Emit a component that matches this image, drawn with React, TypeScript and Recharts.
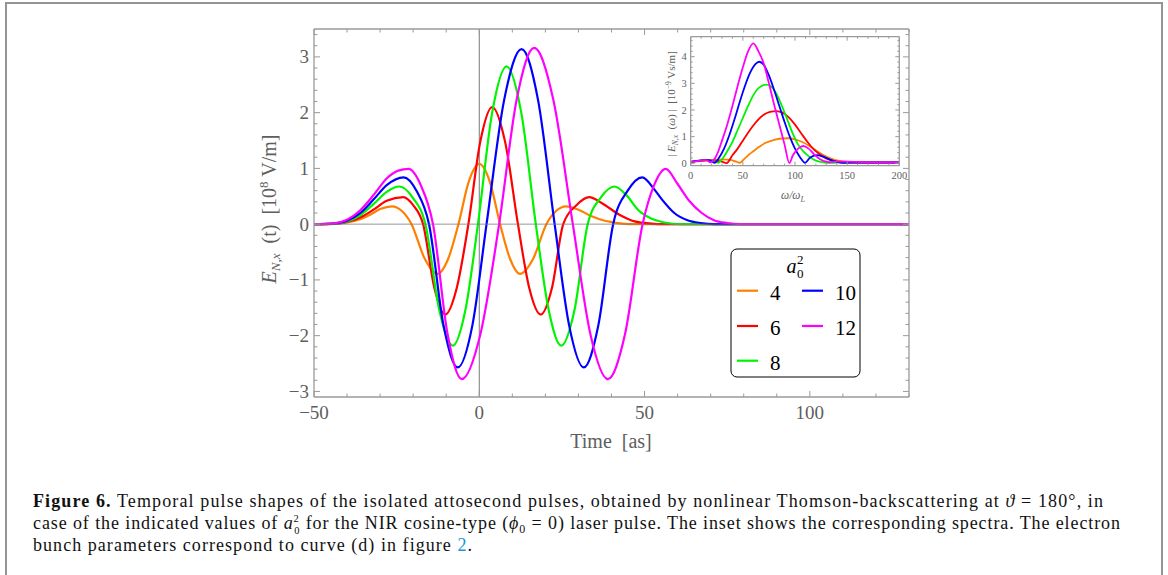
import React from 'react';
import { LineChart, Line, XAxis, YAxis, ReferenceLine } from 'recharts';

// ---------- series meta ----------
const SERIES_LABELS = ['4', '6', '8', '10', '12'];
const COLORS = ['#FF8000', '#FF0000', '#00F400', '#0000FF', '#FF00FF'];

// ---------- main plot: E_N,x(t) [10^8 V/m] vs time [as] ----------
const T_A4 = [-50, -44, -40, -36, -33, -30, -26.4, -23.5, -20.5, -16.5, -12.6, -9.4, -6.3, -3.2, 0, 3.2, 6.3, 9.3, 12.3, 16.3, 20.3, 23.3, 26.3, 30, 34, 38, 42, 46, 130];
const E_A4 = [0, 0.005, 0.03, 0.09, 0.17, 0.27, 0.32, 0.24, 0, -0.62, -0.89, -0.62, 0, 0.76, 1.08, 0.76, 0, -0.62, -0.89, -0.62, 0, 0.24, 0.32, 0.26, 0.14, 0.06, 0.02, 0, 0];

const T_A6 = [-50, -44, -40, -36, -32, -28, -23, -20, -17, -13.6, -10.3, -6.8, -3.3, 0.3, 3.9, 7.8, 11.7, 15.1, 18.6, 22, 25.4, 29.4, 33.3, 37, 42.4, 47, 52, 56, 130];
const E_A6 = [0, 0.005, 0.04, 0.12, 0.26, 0.42, 0.485, 0.34, 0, -1.14, -1.62, -1.14, 0, 1.48, 2.1, 1.48, 0, -1.14, -1.62, -1.14, 0, 0.34, 0.485, 0.38, 0.17, 0.05, 0.01, 0, 0];

const T_A8 = [-50, -44, -40, -36, -32, -28, -24.1, -20.2, -16.3, -12.1, -8, -4.2, -0.4, 3.9, 8.25, 12.7, 17.1, 21, 24.8, 28.8, 32.8, 36.8, 40.9, 44.5, 48.3, 52, 56, 61, 130];
const E_A8 = [0, 0.01, 0.05, 0.16, 0.36, 0.58, 0.675, 0.48, 0, -1.54, -2.18, -1.54, 0, 2.0, 2.83, 2.0, 0, -1.54, -2.18, -1.54, 0, 0.48, 0.675, 0.52, 0.24, 0.1, 0.03, 0, 0];

const T_A10 = [-50, -44, -40, -36, -32, -28, -22.9, -19, -15.2, -10.8, -6.5, -2.1, 2.2, 7.5, 12.8, 17.8, 22.8, 27.2, 31.6, 36, 40.5, 44.9, 49.3, 53, 55.3, 59, 63, 67, 71, 130];
const E_A10 = [0, 0.01, 0.06, 0.2, 0.44, 0.7, 0.84, 0.6, 0, -1.82, -2.57, -1.82, 0, 2.22, 3.14, 2.22, 0, -1.82, -2.57, -1.82, 0, 0.6, 0.84, 0.62, 0.44, 0.2, 0.07, 0.02, 0, 0];

const T_A12 = [-50, -44, -40, -36, -32, -28, -24.5, -21.4, -17.7, -14, -9.6, -5.3, 0.35, 6, 11.3, 16.6, 22.4, 28.3, 33.6, 38.9, 44.1, 49.4, 52.9, 56.4, 60, 63.5, 67.3, 71, 75, 79, 130];
const E_A12 = [0, 0.015, 0.08, 0.25, 0.52, 0.82, 0.96, 0.99, 0.7, 0, -1.97, -2.78, -1.97, 0, 2.23, 3.16, 2.23, 0, -1.97, -2.78, -1.97, 0, 0.7, 0.99, 0.72, 0.42, 0.2, 0.07, 0.02, 0, 0];

// ---------- inset: |E_N,x(omega)| [10^-9 Vs/m] vs omega/omega_L ----------
const W_S4 = [0, 10, 20, 30, 38, 43, 47.3, 51, 55, 60, 65, 72, 80, 87, 93.6, 100, 107, 115, 122, 130, 138, 146, 155, 200];
const S_S4 = [0.05, 0.08, 0.12, 0.15, 0.13, 0.07, 0.02, 0.15, 0.3, 0.45, 0.6, 0.77, 0.88, 0.93, 0.94, 0.9, 0.8, 0.62, 0.43, 0.25, 0.13, 0.07, 0.04, 0.03];

const W_S6 = [0, 10, 18, 25, 30, 34.5, 40, 45, 50, 55, 60, 65, 70, 76, 82.4, 88, 94, 100, 106, 112, 118, 124, 130, 136, 145, 160, 200];
const S_S6 = [0.05, 0.1, 0.12, 0.1, 0.06, 0.01, 0.3, 0.55, 0.85, 1.15, 1.42, 1.65, 1.82, 1.93, 1.96, 1.9, 1.72, 1.45, 1.12, 0.8, 0.52, 0.33, 0.18, 0.09, 0.04, 0.03, 0.03];

const W_S8 = [0, 8, 14, 20, 24, 26.5, 30, 35, 40, 45, 50, 55, 60, 65, 72.8, 78, 83, 88, 93, 98, 103, 108, 113, 120, 127, 132, 150, 200];
const S_S8 = [0.05, 0.1, 0.12, 0.1, 0.05, 0.02, 0.15, 0.45, 0.8, 1.25, 1.7, 2.15, 2.55, 2.82, 2.95, 2.85, 2.55, 2.1, 1.6, 1.1, 0.7, 0.45, 0.27, 0.1, 0.04, 0.02, 0.04, 0.03];

const W_S10 = [0, 8, 15, 20, 23, 27, 32, 37, 42, 47, 52, 57, 62, 65.8, 70, 75, 80, 85, 90, 95, 100, 105, 109.6, 114, 120.8, 127, 133, 140, 146, 160, 200];
const S_S10 = [0.05, 0.1, 0.13, 0.08, 0.02, 0.2, 0.55, 1.05, 1.65, 2.3, 2.9, 3.4, 3.72, 3.81, 3.7, 3.3, 2.75, 2.15, 1.55, 1.0, 0.55, 0.22, 0.02, 0.2, 0.31, 0.25, 0.15, 0.06, 0.02, 0.03, 0.03];

const W_S12 = [0, 10, 15, 19, 22, 26, 30, 35, 40, 45, 50, 55, 60, 65, 70, 75, 80, 85, 90, 94.6, 98, 103, 108, 113, 118, 123, 128, 133, 140, 150, 170, 200];
const S_S12 = [0.05, 0.1, 0.12, 0.04, 0.12, 0.4, 0.85, 1.45, 2.15, 2.9, 3.6, 4.2, 4.5, 4.2, 3.75, 3.0, 2.2, 1.45, 0.7, 0.01, 0.3, 0.55, 0.65, 0.55, 0.35, 0.18, 0.08, 0.04, 0.07, 0.06, 0.04, 0.03];

// ---------- ticks ----------
const MAIN_X_TICKS = [-50, -40, -30, -20, -10, 0, 10, 20, 30, 40, 50, 60, 70, 80, 90, 100, 110, 120, 130];
const MAIN_Y_TICKS = [-3, -2.8, -2.6, -2.4, -2.2, -2, -1.8, -1.6, -1.4, -1.2, -1, -0.8, -0.6, -0.4, -0.2, 0, 0.2, 0.4, 0.6, 0.8, 1, 1.2, 1.4, 1.6, 1.8, 2, 2.2, 2.4, 2.6, 2.8, 3, 3.2, 3.4];
const INSET_X_TICKS = [0, 10, 20, 30, 40, 50, 60, 70, 80, 90, 100, 110, 120, 130, 140, 150, 160, 170, 180, 190, 200];
const INSET_Y_TICKS = [0, 0.2, 0.4, 0.6, 0.8, 1, 1.2, 1.4, 1.6, 1.8, 2, 2.2, 2.4, 2.6, 2.8, 3, 3.2, 3.4, 3.6, 3.8, 4, 4.2, 4.4, 4.6];

const zip = (xs: number[], ys: number[]) => xs.map((t, i) => ({ t, v: ys[i] }));
const MAIN_SERIES = [zip(T_A4, E_A4), zip(T_A6, E_A6), zip(T_A8, E_A8), zip(T_A10, E_A10), zip(T_A12, E_A12)];
const INSET_SERIES = [zip(W_S4, S_S4), zip(W_S6, S_S6), zip(W_S8, S_S8), zip(W_S10, S_S10), zip(W_S12, S_S12)];

const SERIF = '"Liberation Serif", "DejaVu Serif", serif';
const FRAME = '#9a9a9a';
const LABEL = '#5e5e5e';

function fmt(v: number) {
  const r = Math.round(v * 10) / 10;
  return r < 0 ? '\u2212' + Math.abs(r) : String(r);
}

type TickOpts = {
  side: 'bottom' | 'top' | 'left' | 'right';
  step: number;
  major: number;
  minor: number;
  label?: boolean;
  fs?: number;
  off?: number;
  base?: number;
};

function makeTick(o: TickOpts) {
  return (props: any) => {
    const { x, y, payload } = props;
    const v = Number(payload.value);
    const q = v / o.step;
    const isMajor = Math.abs(q - Math.round(q)) < 1e-6;
    const len = isMajor ? o.major : o.minor;
    let x2 = x;
    let y2 = y;
    if (o.side === 'bottom') y2 = y - len;
    if (o.side === 'top') y2 = y + len;
    if (o.side === 'left') x2 = x + len;
    if (o.side === 'right') x2 = x - len;
    const show = !!o.label && isMajor;
    return (
      <g>
        <line x1={x} y1={y} x2={x2} y2={y2} stroke={FRAME} strokeWidth={1} />
        {show && o.side === 'bottom' && (
          <text x={x} y={y + (o.off || 0)} textAnchor="middle" fontFamily={SERIF} fontSize={o.fs} fill={LABEL}>
            {fmt(v)}
          </text>
        )}
        {show && o.side === 'left' && (
          <text x={x - (o.off || 0)} y={y + (o.base || 0)} textAnchor="end" fontFamily={SERIF} fontSize={o.fs} fill={LABEL}>
            {fmt(v)}
          </text>
        )}
      </g>
    );
  };
}

const mainBottom = makeTick({ side: 'bottom', step: 50, major: 6, minor: 3.5, label: true, fs: 19, off: 21.5 });
const mainTop = makeTick({ side: 'top', step: 50, major: 6, minor: 3.5 });
const mainLeft = makeTick({ side: 'left', step: 1, major: 6, minor: 3.5, label: true, fs: 19, off: 5, base: 6.5 });
const mainRight = makeTick({ side: 'right', step: 1, major: 6, minor: 3.5 });

const insBottom = makeTick({ side: 'bottom', step: 50, major: 4, minor: 2, label: true, fs: 10.5, off: 13.5 });
const insTop = makeTick({ side: 'top', step: 50, major: 4, minor: 2 });
const insLeft = makeTick({ side: 'left', step: 1, major: 4, minor: 2, label: true, fs: 10.5, off: 4, base: 3.7 });
const insRight = makeTick({ side: 'right', step: 1, major: 4, minor: 2 });

const axisLine = { stroke: FRAME, strokeWidth: 1.3 };

export default function App() {
  return (
    <div style={{ position: 'absolute', left: 0, top: 0, width: 1168, height: 575, background: '#fff', overflow: 'hidden' }}>
      <svg width={1168} height={575} style={{ position: 'absolute', left: 0, top: 0 }}>
        <rect x={6} y={3} width={1156} height={620} fill="none" stroke="#949494" strokeWidth={2} />
      </svg>

      {/* main chart: plot area x 314..909, y 29..397 */}
      <div style={{ position: 'absolute', left: 0, top: 0 }}>
        <LineChart width={1168} height={575} margin={{ top: 28, right: 258, bottom: 177, left: 313 }}>
          <XAxis xAxisId="b" dataKey="t" type="number" domain={[-50, 130]} allowDataOverflow ticks={MAIN_X_TICKS} interval={0} height={1} tickSize={0} tickMargin={0} tickLine={false} axisLine={axisLine} tick={mainBottom} />
          <XAxis xAxisId="t" orientation="top" dataKey="t" type="number" domain={[-50, 130]} allowDataOverflow ticks={MAIN_X_TICKS} interval={0} height={1} tickSize={0} tickMargin={0} tickLine={false} axisLine={axisLine} tick={mainTop} />
          <YAxis yAxisId="l" type="number" domain={[-3.1, 3.5]} allowDataOverflow ticks={MAIN_Y_TICKS} interval={0} width={1} tickSize={0} tickMargin={0} tickLine={false} axisLine={axisLine} tick={mainLeft} />
          <YAxis yAxisId="r" orientation="right" type="number" domain={[-3.1, 3.5]} allowDataOverflow ticks={MAIN_Y_TICKS} interval={0} width={1} tickSize={0} tickMargin={0} tickLine={false} axisLine={axisLine} tick={mainRight} />
          <ReferenceLine xAxisId="b" yAxisId="l" x={0} stroke="#7a7a7a" strokeWidth={1} />
          {MAIN_SERIES.map((d, i) => (
            <Line key={i} xAxisId="b" yAxisId="l" data={d} dataKey="v" type="monotone" stroke={COLORS[i]} strokeWidth={2.2} dot={false} isAnimationActive={false} />
          ))}
          <ReferenceLine xAxisId="b" yAxisId="l" y={0} stroke="#7a7a7a" strokeOpacity={0.8} strokeWidth={1} />
        </LineChart>
      </div>

      {/* inset chart: plot area x 690.7..899.3, y 36.7..165.7 */}
      <div style={{ position: 'absolute', left: 655, top: 30 }}>
        <LineChart width={260} height={180} margin={{ top: 5.7, right: 14.7, bottom: 43.3, left: 34.7 }}>
          <XAxis xAxisId="b" dataKey="t" type="number" domain={[0, 200]} allowDataOverflow ticks={INSET_X_TICKS} interval={0} height={1} tickSize={0} tickMargin={0} tickLine={false} axisLine={axisLine} tick={insBottom} />
          <XAxis xAxisId="t" orientation="top" dataKey="t" type="number" domain={[0, 200]} allowDataOverflow ticks={INSET_X_TICKS} interval={0} height={1} tickSize={0} tickMargin={0} tickLine={false} axisLine={axisLine} tick={insTop} />
          <YAxis yAxisId="l" type="number" domain={[-0.09, 4.75]} allowDataOverflow ticks={INSET_Y_TICKS} interval={0} width={1} tickSize={0} tickMargin={0} tickLine={false} axisLine={axisLine} tick={insLeft} />
          <YAxis yAxisId="r" orientation="right" type="number" domain={[-0.09, 4.75]} allowDataOverflow ticks={INSET_Y_TICKS} interval={0} width={1} tickSize={0} tickMargin={0} tickLine={false} axisLine={axisLine} tick={insRight} />
          {INSET_SERIES.map((d, i) => (
            <Line key={i} xAxisId="b" yAxisId="l" data={d} dataKey="v" type="monotone" stroke={COLORS[i]} strokeWidth={1.8} dot={false} isAnimationActive={false} />
          ))}
        </LineChart>
      </div>

      {/* labels, legend, caption */}
      <svg width={1168} height={575} style={{ position: 'absolute', left: 0, top: 0, pointerEvents: 'none' }} fontFamily={SERIF}>
        {/* main y title */}
        <text transform="translate(276,209) rotate(-90)" textAnchor="middle" fontSize={20} fill={LABEL} style={{ whiteSpace: 'pre' }}>
          <tspan fontStyle="italic">E</tspan>
          <tspan fontSize={13} dy={4} fontStyle="italic">N,x</tspan>
          <tspan dy={-4}>{'  (t)  [10'}</tspan>
          <tspan fontSize={13} dy={-8}>8</tspan>
          <tspan dy={8}>{' V/m]'}</tspan>
        </text>
        {/* main x title */}
        <text x={611} y={448} textAnchor="middle" fontSize={20} fill={LABEL} style={{ whiteSpace: 'pre' }}>
          {'Time  [as]'}
        </text>

        {/* inset titles */}
        <text transform="translate(675,104) rotate(-90)" textAnchor="middle" fontSize={11} fill={LABEL} style={{ whiteSpace: 'pre' }}>
          <tspan>{'| '}</tspan>
          <tspan fontStyle="italic">E</tspan>
          <tspan fontSize={7.5} dy={2.5} fontStyle="italic">N,x</tspan>
          <tspan dy={-2.5}>{'  ('}</tspan>
          <tspan fontStyle="italic">ω</tspan>
          <tspan>{') |  [10'}</tspan>
          <tspan fontSize={7.5} dy={-4.5}>{'\u22129'}</tspan>
          <tspan dy={4.5}>{' Vs/m]'}</tspan>
        </text>
        <text x={793} y={199} textAnchor="middle" fontSize={11.5} fill={LABEL} fontStyle="italic">
          <tspan>ω/ω</tspan>
          <tspan fontSize={8} dy={3}>L</tspan>
        </text>

        {/* legend */}
        <rect x={731} y={249} width={129} height={128} rx={6} ry={6} fill="#fff" stroke="#000" strokeWidth={1} />
        <text x={786.5} y={272.7} fontSize={20} fontStyle="italic" fill="#000">a</text>
        <text x={797} y={263.5} fontSize={13} fill="#000">2</text>
        <text x={797} y={277.5} fontSize={13} fill="#000">0</text>
        {SERIES_LABELS.map((lab, i) => {
          const col = i < 3 ? 0 : 1;
          const row = i < 3 ? i : i - 3;
          const ly = [290.7, 326, 360.7][row];
          const lx = col === 0 ? 737 : 802;
          const tx = col === 0 ? 770 : 835;
          return (
            <g key={lab}>
              <line x1={lx} x2={lx + 21} y1={ly} y2={ly} stroke={COLORS[i]} strokeWidth={2.2} />
              <text x={tx} y={ly + 9.3} fontSize={21} fill="#000">{lab}</text>
            </g>
          );
        })}

        {/* caption */}
        <g fontSize={18} fill="#111" style={{ whiteSpace: 'pre' }}>
          <text x={33} y={507} textLength={1070} lengthAdjust="spacing">
            <tspan fontWeight="bold">Figure 6.</tspan>
            <tspan>{' Temporal pulse shapes of the isolated attosecond pulses, obtained by nonlinear Thomson-backscattering at '}</tspan>
            <tspan fontStyle="italic">ϑ</tspan>
            <tspan>{' =  180°, in'}</tspan>
          </text>
          <text x={33} y={529.3} textLength={1087} lengthAdjust="spacing">
            <tspan>{'case of the indicated values of '}</tspan>
            <tspan fontStyle="italic">a</tspan>
            <tspan fontSize={10.5} dy={-7.5}>2</tspan>
            <tspan fontSize={10.5} dx={-5.5} dy={12.5}>0</tspan>
            <tspan dy={-5}>{' for the NIR cosine-type ('}</tspan>
            <tspan fontStyle="italic">ϕ</tspan>
            <tspan fontSize={12} dy={4}>0</tspan>
            <tspan dy={-4}>{' =  0) laser pulse. The inset shows the corresponding spectra. The electron'}</tspan>
          </text>
          <text x={33} y={551} textLength={439} lengthAdjust="spacing">
            <tspan>{'bunch parameters correspond to curve (d) in figure '}</tspan>
            <tspan fill="#1a95d3">2</tspan>
            <tspan>.</tspan>
          </text>
        </g>
      </svg>
    </div>
  );
}
